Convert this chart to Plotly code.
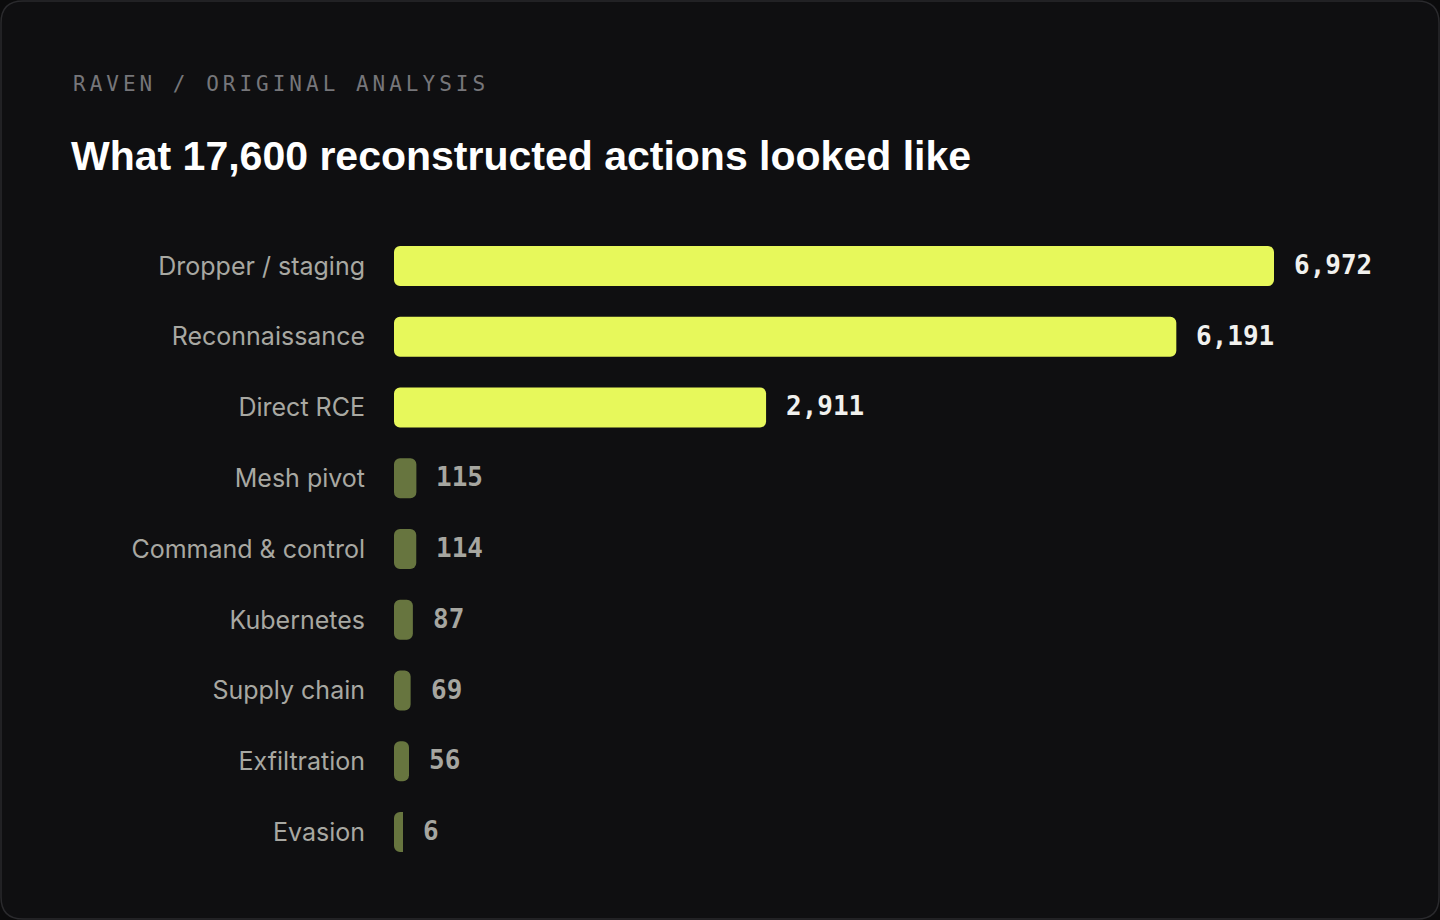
import plotly.graph_objects as go

# ---- data -------------------------------------------------------------
categories = [
    "Dropper / staging",
    "Reconnaissance",
    "Direct RCE",
    "Mesh pivot",
    "Command & control",
    "Kubernetes",
    "Supply chain",
    "Exfiltration",
    "Evasion",
]
counts = [6972, 6191, 2911, 115, 114, 87, 69, 56, 6]

kicker = "RAVEN / ORIGINAL ANALYSIS"
title = "What 17,600 reconstructed actions looked like"

# ---- styling ----------------------------------------------------------
W, H = 1440, 920
BG_OUT = "#0b0b0c"
CARD = "#0f0f11"
CARD_LINE = "#2a2a2d"
LIME = "#e7f85b"
OLIVE = "#67753f"
LABEL_HI = "#f1f1ee"
LABEL_LO = "#a6a6a0"
CAT_COLOR = "#a8a8a2"
MAJOR = 1000  # counts at or above this are highlighted

def fx(px):
    return px / W

def fy(py):
    return 1 - py / H

bar_colors = [LIME if c >= MAJOR else OLIVE for c in counts]
text_colors = [LABEL_HI if c >= MAJOR else LABEL_LO for c in counts]

# x scale: the plot domain starts at the left of the rounded cap
x_left_px, x_right_px = 394, 1274
cap_px = 8
span_units = max(counts)
units_per_px = span_units / (x_right_px - x_left_px - cap_px)
cap_units = cap_px * units_per_px

fig = go.Figure()

# rounded start cap (drawn to the left of zero)
fig.add_trace(go.Bar(
    y=categories, x=[-cap_units] * len(categories), orientation="h",
    marker=dict(color=bar_colors, line=dict(width=0), cornerradius=6),
    width=0.565, hoverinfo="skip", showlegend=False,
))
# the actual counts
fig.add_trace(go.Bar(
    y=categories, x=counts, orientation="h",
    marker=dict(color=bar_colors, line=dict(width=0), cornerradius=6),
    width=0.565, hoverinfo="skip", showlegend=False,
))

annotations = []
for cat, val, col in zip(categories, counts, text_colors):
    annotations.append(dict(
        x=val, y=cat, xref="x", yref="y", xanchor="left", yanchor="middle",
        xshift=18, yshift=1, showarrow=False, text=f"{val:,}",
        font=dict(family="DejaVu Sans Mono", size=26, color=col, weight="bold"),
    ))

annotations.append(dict(
    x=fx(71), y=fy(84), xref="paper", yref="paper", xanchor="left", yanchor="middle",
    align="left", showarrow=False, text=kicker,
    font=dict(family="DejaVu Sans Mono", size=21, color="#76767a"),
))
annotations.append(dict(
    x=fx(69), y=fy(156), xref="paper", yref="paper", xanchor="left", yanchor="middle",
    align="left", showarrow=False, text=f"<b>{title}</b>",
    font=dict(family="Liberation Sans", size=41, color="#ffffff"),
))

# card background with rounded corners
r = 22
x0, x1 = fx(1), fx(W - 1)
y0, y1 = fy(H - 1), fy(1)
rx, ry = r / W, r / H
card_path = (
    f"M {x0+rx},{y1} L {x1-rx},{y1} Q {x1},{y1} {x1},{y1-ry} "
    f"L {x1},{y0+ry} Q {x1},{y0} {x1-rx},{y0} "
    f"L {x0+rx},{y0} Q {x0},{y0} {x0},{y0+ry} "
    f"L {x0},{y1-ry} Q {x0},{y1} {x0+rx},{y1} Z"
)

fig.update_layout(
    width=W, height=H,
    margin=dict(l=0, r=0, t=0, b=0),
    paper_bgcolor=BG_OUT, plot_bgcolor="rgba(0,0,0,0)",
    barmode="relative",
    showlegend=False,
    annotations=annotations,
    shapes=[dict(type="path", path=card_path, xref="paper", yref="paper",
                 fillcolor=CARD, line=dict(color=CARD_LINE, width=1.5), layer="below")],
    xaxis=dict(
        domain=[fx(x_left_px), fx(x_right_px)],
        range=[-cap_units, span_units],
        visible=False, fixedrange=True,
    ),
    yaxis=dict(
        domain=[fy(867.4), fy(230.6)],
        autorange="reversed",
        type="category",
        showgrid=False, zeroline=False, showline=False,
        ticks="", ticklabelstandoff=28,
        tickfont=dict(family="Inter", size=25, color=CAT_COLOR),
        fixedrange=True,
    ),
)

post = """
(function(){
  document.documentElement.style.margin = '0';
  document.documentElement.style.padding = '0';
  document.documentElement.style.background = '#0b0b0c';
  document.body.style.margin = '0';
  document.body.style.padding = '0';
  document.body.style.background = '#0b0b0c';
  function sp(){
    document.querySelectorAll('.annotation-text').forEach(function(t){
      if (t.textContent.indexOf('RAVEN') === 0) { t.style.letterSpacing = '4px'; }
    });
  }
  sp(); setTimeout(sp, 200); setTimeout(sp, 800);
  var gd = document.getElementById('{plot_id}');
  if (gd && gd.on) { gd.on('plotly_afterplot', sp); }
})();
"""

fig.write_html("out.html", config={"displayModeBar": False}, post_script=post)
